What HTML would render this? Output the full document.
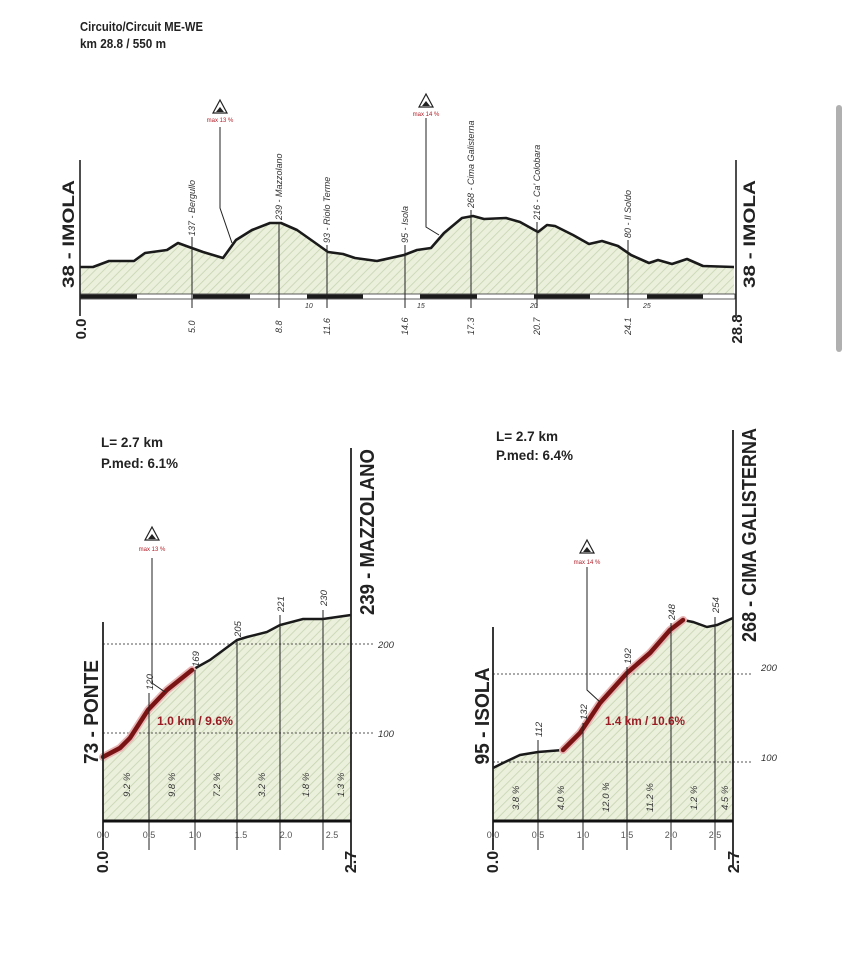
<!DOCTYPE html>
<html><head><meta charset="utf-8"><style>
html,body{margin:0;padding:0;background:#fff;}
svg{display:block;}
.c{font-family:"Liberation Sans Narrow","Liberation Sans",sans-serif;}
</style></head><body>
<svg width="848" height="960" viewBox="0 0 848 960" xmlns="http://www.w3.org/2000/svg">
<defs>
<pattern id="h" patternUnits="userSpaceOnUse" width="6" height="6" patternTransform="rotate(45)">
<rect width="6" height="6" fill="#eaf0dc"/>
<line x1="0" y1="0" x2="0" y2="6" stroke="#c8d3b0" stroke-width="1.6"/>
</pattern>
</defs>
<rect width="848" height="960" fill="#fff"/>
<rect x="836" y="105" width="6" height="247" rx="3" fill="#b0b0b0"/>

<g class="c" font-weight="bold" font-size="12.5" fill="#222">
<text x="80" y="31" textLength="123" lengthAdjust="spacingAndGlyphs">Circuito/Circuit ME-WE</text>
<text x="80" y="48" textLength="86" lengthAdjust="spacingAndGlyphs">km 28.8 / 550 m</text>
</g>

<path d="M80,267 L93,267 109,261 134,261 145,253 167,250 178,243 189,247 203,252 223,258 236,240 252,230 270,223 281,223 297,230 314,242 328,252 343,254 355,258 377,261 404,255 417,250 431,248 444,233 462,218 473,216 484,219 506,218 520,222 538,232 547,225 555,226 573,235 589,244 602,241 618,246 631,255 649,263 658,260 672,264 687,259 703,266 734,267 L734,295 L80,295 Z" fill="url(#h)"/>
<path d="M80,267 L93,267 109,261 134,261 145,253 167,250 178,243 189,247 203,252 223,258 236,240 252,230 270,223 281,223 297,230 314,242 328,252 343,254 355,258 377,261 404,255 417,250 431,248 444,233 462,218 473,216 484,219 506,218 520,222 538,232 547,225 555,226 573,235 589,244 602,241 618,246 631,255 649,263 658,260 672,264 687,259 703,266 734,267" fill="none" stroke="#1a1a1a" stroke-width="2.6" stroke-linejoin="round"/>
<rect x="80" y="294" width="655" height="5" fill="#fff" stroke="#333" stroke-width="0.8"/>
<g fill="#1a1a1a">
<rect x="80" y="294.5" width="57" height="4"/>
<rect x="193" y="294.5" width="57" height="4"/>
<rect x="307" y="294.5" width="56" height="4"/>
<rect x="420" y="294.5" width="57" height="4"/>
<rect x="534" y="294.5" width="56" height="4"/>
<rect x="647" y="294.5" width="56" height="4"/>
</g>
<g stroke="#222" stroke-width="1.6">
<line x1="80" y1="160" x2="80" y2="316"/>
<line x1="736" y1="160" x2="736" y2="316"/>
</g>
<g stroke="#222" stroke-width="1">
<line x1="192" y1="237" x2="192" y2="308"/>
<line x1="279" y1="222" x2="279" y2="308"/>
<line x1="327" y1="245" x2="327" y2="308"/>
<line x1="405" y1="245" x2="405" y2="308"/>
<line x1="471" y1="210" x2="471" y2="308"/>
<line x1="537" y1="222" x2="537" y2="308"/>
<line x1="628" y1="240" x2="628" y2="308"/>
<polyline points="220,127 220,208 232,243" fill="none"/>
<polyline points="426,118 426,227 439,235" fill="none"/>
</g>
<g class="c" font-size="9" font-style="italic" fill="#333">
<text transform="translate(195,236) rotate(-90)">137 - Bergullo</text>
<text transform="translate(282,220) rotate(-90)">239 - Mazzolano</text>
<text transform="translate(330,243) rotate(-90)">93 - Riolo Terme</text>
<text transform="translate(408,243) rotate(-90)">95 - Isola</text>
<text transform="translate(474,208) rotate(-90)">268 - Cima Galisterna</text>
<text transform="translate(540,220) rotate(-90)">216 - Ca' Colobara</text>
<text transform="translate(631,238) rotate(-90)">80 - Il Soldo</text>
<text transform="translate(195,333) rotate(-90)">5.0</text>
<text transform="translate(282,333) rotate(-90)">8.8</text>
<text transform="translate(330,335) rotate(-90)">11.6</text>
<text transform="translate(408,335) rotate(-90)">14.6</text>
<text transform="translate(474,335) rotate(-90)">17.3</text>
<text transform="translate(540,335) rotate(-90)">20.7</text>
<text transform="translate(631,335) rotate(-90)">24.1</text>
<text x="305" y="308" font-size="7">10</text>
<text x="417" y="308" font-size="7">15</text>
<text x="530" y="308" font-size="7">20</text>
<text x="643" y="308" font-size="7">25</text>
</g>
<g class="c" font-weight="bold" fill="#222">
<text transform="translate(74,234) rotate(-90)" font-size="17" text-anchor="middle" textLength="108" lengthAdjust="spacingAndGlyphs">38 - IMOLA</text>
<text transform="translate(755,234) rotate(-90)" font-size="17" text-anchor="middle" textLength="108" lengthAdjust="spacingAndGlyphs">38 - IMOLA</text>
<text transform="translate(86,329) rotate(-90)" font-size="15" text-anchor="middle">0.0</text>
<text transform="translate(742,329) rotate(-90)" font-size="15" text-anchor="middle">28.8</text>
</g>
<g>
<path d="M220,100 L213,113 L227,113 Z" fill="#fff" stroke="#222" stroke-width="1.2"/>
<path d="M216,112 L220,107 L224,112 Z" fill="#222"/>
<text x="220" y="122" class="c" font-size="6" fill="#b3202a" text-anchor="middle">max 13 %</text>
<path d="M426,94 L419,107 L433,107 Z" fill="#fff" stroke="#222" stroke-width="1.2"/>
<path d="M422,106 L426,101 L430,106 Z" fill="#222"/>
<text x="426" y="116" class="c" font-size="6" fill="#b3202a" text-anchor="middle">max 14 %</text>
</g>

<path d="M103,757 L120,748 130,738 148,710 167,690 192,670 210,660 237,640 247,637 267,632 280,625 303,619 323,619 337,617 351,615 L351,821 L103,821 Z" fill="url(#h)"/>
<g stroke="#555" stroke-width="1" stroke-dasharray="2,2">
<line x1="103" y1="644" x2="375" y2="644"/>
<line x1="103" y1="733" x2="375" y2="733"/>
</g>
<path d="M192,670 L210,660 237,640 247,637 267,632 280,625 303,619 323,619 337,617 351,615" fill="none" stroke="#1a1a1a" stroke-width="2.5"/>
<path d="M103,757 L120,748 130,738 148,710 167,690 192,670" fill="none" stroke="#e8b4b4" stroke-width="8" stroke-linecap="round"/>
<path d="M103,757 L120,748 130,738 148,710 167,690 192,670" fill="none" stroke="#7a1414" stroke-width="4.5" stroke-linecap="round"/>
<g stroke="#222" stroke-width="1">
<line x1="149" y1="693" x2="149" y2="850"/>
<line x1="195" y1="670" x2="195" y2="850"/>
<line x1="237" y1="640" x2="237" y2="850"/>
<line x1="280" y1="615" x2="280" y2="850"/>
<line x1="323" y1="610" x2="323" y2="850"/>
<line x1="103" y1="821" x2="103" y2="850"/>
<polyline points="152,558 152,683 165,692" fill="none"/>
</g>
<line x1="103" y1="622" x2="103" y2="850" stroke="#222" stroke-width="1.8"/>
<line x1="351" y1="448" x2="351" y2="867" stroke="#222" stroke-width="1.8"/>
<line x1="103" y1="821" x2="351" y2="821" stroke="#111" stroke-width="3"/>
<g class="c" font-size="9.5" font-style="italic" fill="#333">
<text transform="translate(153,690) rotate(-90)">120</text>
<text transform="translate(199,667) rotate(-90)">169</text>
<text transform="translate(241,637) rotate(-90)">205</text>
<text transform="translate(284,612) rotate(-90)">221</text>
<text transform="translate(327,606) rotate(-90)">230</text>
<text transform="translate(130,797) rotate(-90)">9.2 %</text>
<text transform="translate(175,797) rotate(-90)">9.8 %</text>
<text transform="translate(220,797) rotate(-90)">7.2 %</text>
<text transform="translate(265,797) rotate(-90)">3.2 %</text>
<text transform="translate(309,797) rotate(-90)">1.8 %</text>
<text transform="translate(344,797) rotate(-90)">1.3 %</text>
<text x="378" y="648">200</text>
<text x="378" y="737">100</text>
</g>
<g class="c" font-size="9" fill="#555" text-anchor="middle">
<text x="103" y="838">0.0</text><text x="149" y="838">0.5</text><text x="195" y="838">1.0</text>
<text x="241" y="838">1.5</text><text x="286" y="838">2.0</text><text x="332" y="838">2.5</text>
</g>
<text x="157" y="725" class="c" font-weight="bold" font-size="12" fill="#9a1c24" textLength="76" lengthAdjust="spacingAndGlyphs">1.0 km / 9.6%</text>
<g>
<path d="M152,527 L145,540 L159,540 Z" fill="#fff" stroke="#222" stroke-width="1.2"/>
<path d="M148,539 L152,534 L156,539 Z" fill="#222"/>
<text x="152" y="551" class="c" font-size="6" fill="#b3202a" text-anchor="middle">max 13 %</text>
</g>
<g class="c" font-weight="bold" fill="#222">
<text x="101" y="447" font-size="13.5" textLength="62" lengthAdjust="spacingAndGlyphs">L= 2.7 km</text>
<text x="101" y="468" font-size="13.5" textLength="77" lengthAdjust="spacingAndGlyphs">P.med: 6.1%</text>
<text transform="translate(98,712) rotate(-90)" font-size="20" text-anchor="middle" textLength="104" lengthAdjust="spacingAndGlyphs">73 - PONTE</text>
<text transform="translate(374,532) rotate(-90)" font-size="20" text-anchor="middle" textLength="166" lengthAdjust="spacingAndGlyphs">239 - MAZZOLANO</text>
<text transform="translate(108,862) rotate(-90)" font-size="16" text-anchor="middle">0.0</text>
<text transform="translate(356,862) rotate(-90)" font-size="16" text-anchor="middle">2.7</text>
</g>

<path d="M493,768 L503,763 520,755 538,752 563,750 580,733 600,703 627,673 650,653 670,630 683,620 693,622 707,627 717,625 733,618 L733,821 L493,821 Z" fill="url(#h)"/>
<g stroke="#555" stroke-width="1" stroke-dasharray="2,2">
<line x1="493" y1="674" x2="752" y2="674"/>
<line x1="493" y1="762" x2="752" y2="762"/>
</g>
<path d="M493,768 L503,763 520,755 538,752 563,750 M683,620 L693,622 707,627 717,625 733,618" fill="none" stroke="#1a1a1a" stroke-width="2.5"/>
<path d="M563,750 L580,733 600,703 627,673 650,653 670,630 683,620" fill="none" stroke="#e8b4b4" stroke-width="8" stroke-linecap="round"/>
<path d="M563,750 L580,733 600,703 627,673 650,653 670,630 683,620" fill="none" stroke="#7a1414" stroke-width="4.5" stroke-linecap="round"/>
<g stroke="#222" stroke-width="1">
<line x1="538" y1="740" x2="538" y2="850"/>
<line x1="583" y1="723" x2="583" y2="850"/>
<line x1="627" y1="667" x2="627" y2="850"/>
<line x1="671" y1="623" x2="671" y2="850"/>
<line x1="715" y1="617" x2="715" y2="850"/>
<line x1="493" y1="821" x2="493" y2="850"/>
<polyline points="587,567 587,690 600,702" fill="none"/>
</g>
<line x1="493" y1="627" x2="493" y2="850" stroke="#222" stroke-width="1.8"/>
<line x1="733" y1="430" x2="733" y2="867" stroke="#222" stroke-width="1.8"/>
<line x1="493" y1="821" x2="733" y2="821" stroke="#111" stroke-width="3"/>
<g class="c" font-size="9.5" font-style="italic" fill="#333">
<text transform="translate(542,737) rotate(-90)">112</text>
<text transform="translate(587,720) rotate(-90)">132</text>
<text transform="translate(631,664) rotate(-90)">192</text>
<text transform="translate(675,620) rotate(-90)">248</text>
<text transform="translate(719,613) rotate(-90)">254</text>
<text transform="translate(519,810) rotate(-90)">3.8 %</text>
<text transform="translate(564,810) rotate(-90)">4.0 %</text>
<text transform="translate(609,812) rotate(-90)">12.0 %</text>
<text transform="translate(653,812) rotate(-90)">11.2 %</text>
<text transform="translate(697,810) rotate(-90)">1.2 %</text>
<text transform="translate(728,810) rotate(-90)">4.5 %</text>
<text x="761" y="671">200</text>
<text x="761" y="761">100</text>
</g>
<g class="c" font-size="9" fill="#555" text-anchor="middle">
<text x="493" y="838">0.0</text><text x="538" y="838">0.5</text><text x="583" y="838">1.0</text>
<text x="627" y="838">1.5</text><text x="671" y="838">2.0</text><text x="715" y="838">2.5</text>
</g>
<text x="605" y="725" class="c" font-weight="bold" font-size="12" fill="#9a1c24" textLength="80" lengthAdjust="spacingAndGlyphs">1.4 km / 10.6%</text>
<g>
<path d="M587,540 L580,553 L594,553 Z" fill="#fff" stroke="#222" stroke-width="1.2"/>
<path d="M583,552 L587,547 L591,552 Z" fill="#222"/>
<text x="587" y="564" class="c" font-size="6" fill="#b3202a" text-anchor="middle">max 14 %</text>
</g>
<g class="c" font-weight="bold" fill="#222">
<text x="496" y="441" font-size="13.5" textLength="62" lengthAdjust="spacingAndGlyphs">L= 2.7 km</text>
<text x="496" y="460" font-size="13.5" textLength="77" lengthAdjust="spacingAndGlyphs">P.med: 6.4%</text>
<text transform="translate(489,716) rotate(-90)" font-size="20" text-anchor="middle" textLength="97" lengthAdjust="spacingAndGlyphs">95 - ISOLA</text>
<text transform="translate(756,535) rotate(-90)" font-size="20" text-anchor="middle" textLength="214" lengthAdjust="spacingAndGlyphs">268 - CIMA GALISTERNA</text>
<text transform="translate(498,862) rotate(-90)" font-size="16" text-anchor="middle">0.0</text>
<text transform="translate(739,862) rotate(-90)" font-size="16" text-anchor="middle">2.7</text>
</g>
</svg>
</body></html>
